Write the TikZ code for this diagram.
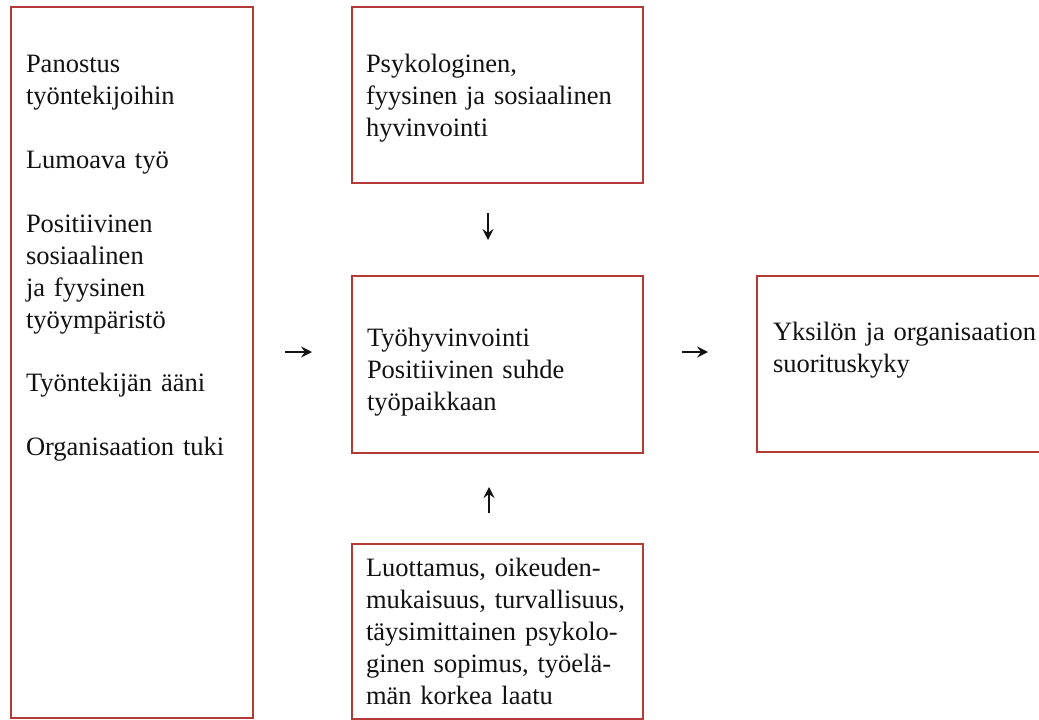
\documentclass[tikz,border=0pt]{standalone}
\usepackage{fontspec}
\setmainfont{Liberation Serif}
\usetikzlibrary{arrows.meta}
\definecolor{boxred}{RGB}{178,58,55}
\definecolor{ink}{RGB}{18,18,18}
\begin{document}
\begin{tikzpicture}[x=1pt,y=-1pt,
  box/.style={draw=boxred, line width=2.7pt, rectangle, inner sep=0pt, outer sep=0pt, anchor=north west},
  txt/.style={anchor=base west, inner sep=0pt, outer sep=0pt, align=left, text width=#1, text=ink,
    font=\fontsize{26.5}{32}\selectfont},
  txt/.default=300pt,
  arr/.style={ink, line width=1.5pt, -{Stealth[length=11pt,width=11pt,inset=4pt]}}]
\useasboundingbox (0,0) rectangle (1039,720);
\fill[white] (0,0) rectangle (1039,720);
% boxes
\node[box, minimum width=242pt, minimum height=711pt] (left) at (11,7) {};
\node[box, minimum width=291pt, minimum height=176pt] (top) at (352,7) {};
\node[box, minimum width=291pt, minimum height=177pt] (mid) at (352,276) {};
\node[box, minimum width=291pt, minimum height=175pt] (bot) at (352,544) {};
\node[box, minimum width=300pt, minimum height=176pt] (right) at (757,276) {};
% texts
\node[txt=225pt] (lefttext) at (26,72) {Panostus\\työntekijoihin\\[32pt]Lumoava työ\\[32pt]Positiivinen\\sosiaalinen\\ja fyysinen\\työympäristö\\[32pt]Työntekijän ääni\\[32pt]Organisaation tuki};
\node[txt=275pt] (toptext) at (366,72) {Psykologinen,\\fyysinen ja sosiaalinen\\hyvinvointi};
\node[txt=275pt] (midtext) at (367,346) {Työhyvinvointi\\Positiivinen suhde\\työpaikkaan};
\node[txt=275pt] (bottext) at (366,576) {Luottamus, oikeuden-\\mukaisuus, turvallisuus,\\täysimittainen psykolo-\\ginen sopimus, työelä-\\män korkea laatu};
\node[txt=275pt] (righttext) at (773,340) {Yksilön ja organisaation\\suorituskyky};
% arrows
\draw[arr] (left.east) ++(32,-10.5) -- ++(27,0);
\draw[arr] (mid.east) ++(39,-12.5) -- ++(26,0);
\draw[arr] (top.south) ++(-9.5,30) -- ++(0,27);
\draw[arr] (bot.north) ++(-8.5,-31) -- ++(0,-26);
\end{tikzpicture}
\end{document}
